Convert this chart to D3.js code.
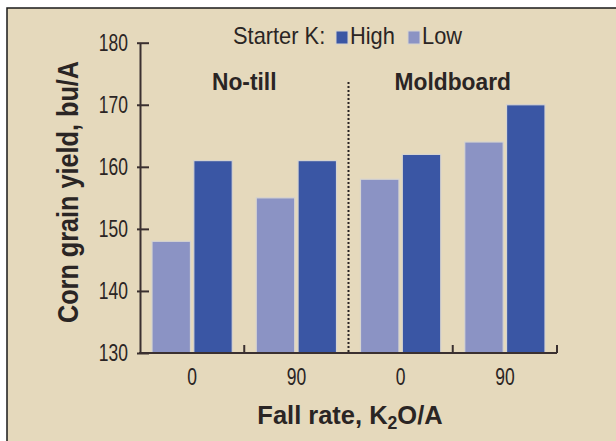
<!DOCTYPE html>
<html>
<head>
<meta charset="utf-8">
<script src="https://cdn.jsdelivr.net/npm/d3@7"></script>
<style>
  body { margin: 0; background: #fff; }
  svg { display: block; }
  text { fill: #2a2524; font-family: "Liberation Sans", Arial, sans-serif; }
</style>
</head>
<body>
<svg width="616" height="441"></svg>
<script>
const tillage = ["No-till", "Moldboard"];
const fallRates = ["0", "90"];
const series = ["High", "Low"];
const barOrder = ["Low", "High"];
const lowYield = [148, 155, 158, 164];
const highYield = [161, 161, 162, 170];
const yTicks = [130, 140, 150, 160, 170, 180];

const colors = { High: "#3a56a4", Low: "#8b93c4" };

const groups = [];
tillage.forEach((t, i) => fallRates.forEach((r, j) => {
    const k = i * fallRates.length + j;
    groups.push({ id: t + " " + r, tillage: t, rate: r, Low: lowYield[k], High: highYield[k] });
}));

const svg = d3.select("svg");

// condensed-looking text: squeeze horizontally around the anchor point
function label(parent, x, y, size, sx, txt, opts = {}) {
    const t = parent.append("text")
        .attr("transform", `translate(${x},${y})${opts.rotate ? " rotate(" + opts.rotate + ")" : ""} scale(${sx},1)`)
        .attr("text-anchor", opts.anchor || "start")
        .attr("font-size", size)
        .attr("font-weight", opts.bold ? "bold" : "normal");
    if (txt !== null) t.text(txt);
    return t;
}

// frame, cropped at right and bottom
svg.append("rect")
    .attr("x", 7).attr("y", 8)
    .attr("width", 700).attr("height", 500)
    .attr("fill", "#e5d9bc")
    .attr("stroke", "#1a1a1a")
    .attr("stroke-width", 1.5);

const plotLeft = 140, plotRight = 557, plotTop = 42.7, plotBottom = 353;

const x0 = d3.scaleBand()
    .domain(groups.map(d => d.id))
    .range([plotLeft, plotRight]);

const x1 = d3.scaleBand()
    .domain(barOrder)
    .range([12, x0.bandwidth() - 12])
    .paddingInner(0.08);

const y = d3.scaleLinear()
    .domain([130, 180])
    .range([plotBottom, plotTop]);

// bars
const g = svg.selectAll(".group")
    .data(groups)
    .enter().append("g")
    .attr("class", "group")
    .attr("transform", d => `translate(${x0(d.id)},0)`);

g.selectAll("rect")
    .data(d => barOrder.map(s => ({ key: s, value: d[s] })))
    .enter().append("rect")
    .attr("x", d => x1(d.key))
    .attr("width", x1.bandwidth())
    .attr("y", d => y(d.value))
    .attr("height", d => y(130) - y(d.value))
    .attr("fill", d => colors[d.key])
    .attr("stroke", "#d6d4d0")
    .attr("stroke-width", 1.2);

// y axis
const tickSx = 0.76;
const yAxis = svg.append("g")
    .attr("transform", `translate(${plotLeft},0)`)
    .call(d3.axisLeft(y).tickValues(yTicks).tickSizeInner(3).tickSizeOuter(0));
yAxis.select(".domain").attr("stroke", "#3a3030").attr("stroke-width", 2);
yAxis.selectAll(".tick line").attr("x1", 9).attr("x2", -3).attr("stroke", "#3a3030").attr("stroke-width", 2);
yAxis.selectAll(".tick text")
    .attr("x", -12 / tickSx)
    .attr("transform", `scale(${tickSx},1)`)
    .attr("font-size", 23)
    .attr("font-family", "Liberation Sans, Arial, sans-serif")
    .attr("fill", "#2a2524");

// x axis
const xAxis = svg.append("g")
    .attr("transform", `translate(0,${plotBottom})`)
    .call(d3.axisBottom(x0).tickSize(0).tickPadding(16).tickFormat(id => groups.find(d => d.id === id).rate));
xAxis.select(".domain").attr("d", `M${plotLeft - 1},0H${plotRight}`).attr("stroke", "#3a3030").attr("stroke-width", 2);
xAxis.selectAll(".tick text")
    .attr("transform", `scale(${tickSx},1)`)
    .attr("font-size", 23)
    .attr("font-family", "Liberation Sans, Arial, sans-serif")
    .attr("fill", "#2a2524");

groups.forEach((d, i) => {
    const xe = x0(d.id) + x0.bandwidth();
    if (i === 1) {
        svg.append("line")
            .attr("x1", xe).attr("x2", xe)
            .attr("y1", 82).attr("y2", plotBottom)
            .attr("stroke", "#2a2524")
            .attr("stroke-width", 2)
            .attr("stroke-dasharray", "2,2");
    } else {
        svg.append("line")
            .attr("x1", xe).attr("x2", xe)
            .attr("y1", plotBottom).attr("y2", plotBottom - 8)
            .attr("stroke", "#3a3030")
            .attr("stroke-width", 2);
    }
});

// tillage labels
tillage.forEach((t, i) => {
    const first = groups[i * fallRates.length];
    label(svg, x0(first.id) + x0.bandwidth(), 90, 24, 0.95, t, { anchor: "middle", bold: true });
});

// axis titles
label(svg, 78, 192, 29, 0.87, "Corn grain yield, bu/A", { anchor: "middle", bold: true, rotate: -90 });

const xt = label(svg, 350, 424, 26, 0.98, null, { anchor: "middle", bold: true });
xt.append("tspan").text("Fall rate, K");
xt.append("tspan").attr("font-size", 18).attr("dy", 5).text("2");
xt.append("tspan").attr("dy", -5).text("O/A");

// legend
const legend = svg.append("g");
label(legend, 233, 44, 23, 0.95, "Starter K:");
const lx = { High: 336, Low: 408 };
series.forEach(s => {
    legend.append("rect")
        .attr("x", lx[s]).attr("y", 31)
        .attr("width", 12).attr("height", 13)
        .attr("fill", colors[s])
        .attr("stroke", "#d6d4d0")
        .attr("stroke-width", 1);
    label(legend, lx[s] + 14, 44, 23, 0.95, s);
});
</script>
</body>
</html>
